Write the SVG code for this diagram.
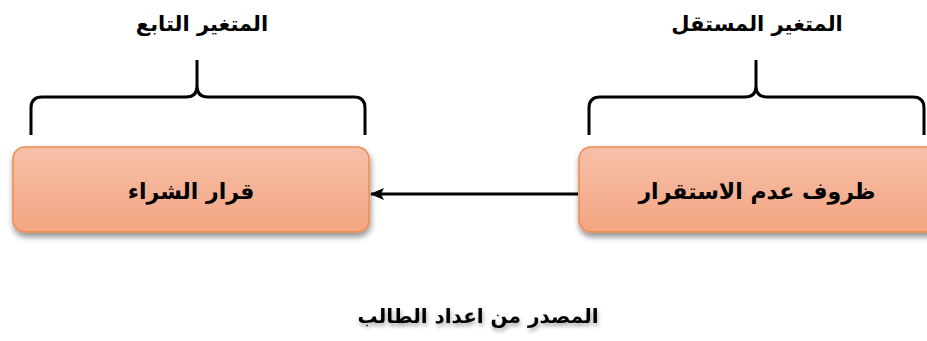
<svg xmlns="http://www.w3.org/2000/svg" width="927" height="341" viewBox="0 0 927 341">
<defs>
<linearGradient id="g" x1="0" y1="0" x2="0" y2="1">
<stop offset="0" stop-color="#f6c0a8"/>
<stop offset="1" stop-color="#f4a582"/>
</linearGradient>
<filter id="sh" x="-10%" y="-20%" width="120%" height="150%">
<feGaussianBlur in="SourceAlpha" stdDeviation="3"/>
<feOffset dx="1" dy="4"/>
<feComponentTransfer><feFuncA type="linear" slope="0.45"/></feComponentTransfer>
<feMerge><feMergeNode/><feMergeNode in="SourceGraphic"/></feMerge>
</filter>
<marker id="ah" markerWidth="14" markerHeight="12" refX="13" refY="6" orient="auto" markerUnits="userSpaceOnUse" viewBox="0 0 14 12">
<path d="M0,0 L14,6 L0,12 L3,6 Z" fill="#000"/>
</marker>
<filter id="ts" x="-10%" y="-30%" width="120%" height="160%">
<feGaussianBlur in="SourceAlpha" stdDeviation="2"/>
<feOffset dx="1" dy="3"/>
<feComponentTransfer><feFuncA type="linear" slope="0.35"/></feComponentTransfer>
<feMerge><feMergeNode/><feMergeNode in="SourceGraphic"/></feMerge>
</filter>
</defs>
<style>
.box{fill:url(#g);stroke:#ee8a4e;stroke-width:1.5;filter:url(#sh)}
.t{font-family:"DejaVu Sans",sans-serif;font-weight:bold;fill:#000;text-anchor:middle}
.brace{fill:none;stroke:#000;stroke-width:3}
</style>
<g id="label-dependent"><text class="t" x="202" y="31" font-size="21" direction="rtl">المتغير التابع</text></g>
<g id="label-independent"><text class="t" x="757" y="31" font-size="21" direction="rtl">المتغير المستقل</text></g>
<g id="brace-left"><path class="brace" d="M31,135 L31,108 Q31,97 42,97 L186,97 Q197,97 197,86 L197,60 M197,86 Q197,97 208,97 L354,97 Q365,97 365,108 L365,135"/></g>
<g id="brace-right"><path class="brace" d="M589,135 L589,108 Q589,97 600,97 L745,97 Q756,97 756,86 L756,60 M756,86 Q756,97 767,97 L913,97 Q924,97 924,108 L924,135"/></g>
<g id="node-dependent">
<rect class="box" x="13" y="147" width="356" height="85" rx="12"/>
<text class="t" x="191" y="199" font-size="22" direction="rtl">قرار الشراء</text>
</g>
<g id="node-independent">
<rect class="box" x="579" y="147" width="360" height="85" rx="12"/>
<text class="t" x="757" y="199" font-size="22" direction="rtl">ظروف عدم الاستقرار</text>
</g>
<g id="connectors">
<line x1="578" y1="194" x2="371" y2="194" stroke="#000" stroke-width="3" marker-end="url(#ah)"/>
</g>
<g id="source"><text class="t" x="478" y="323" font-size="20" direction="rtl" filter="url(#ts)">المصدر من اعداد الطالب</text></g>
</svg>
